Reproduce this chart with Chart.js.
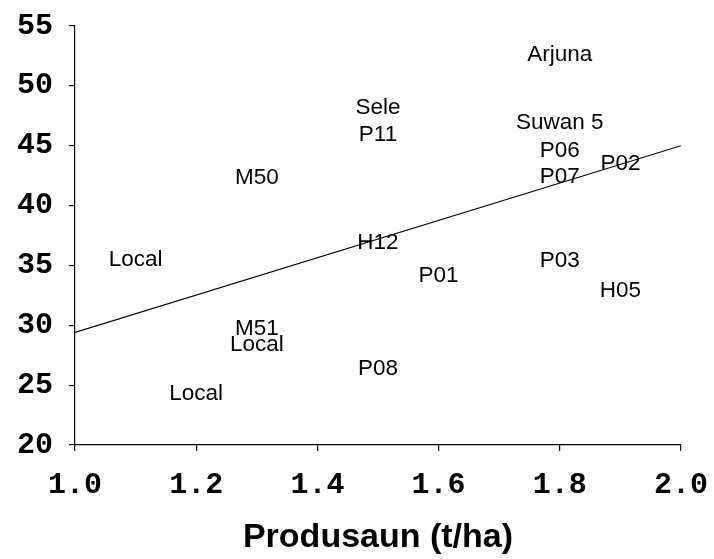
<!DOCTYPE html>
<html>
<head>
<meta charset="utf-8">
<script src="https://cdn.jsdelivr.net/npm/chart.js@4"></script>
<style>
  html, body { margin: 0; padding: 0; background: #fff; }
  #wrap { width: 714px; height: 559px; }
</style>
</head>
<body>
<div id="wrap"><canvas id="myChart"></canvas></div>
<script>
  // varieties, plotted as text at (produsaun, y)
  const names = ['Arjuna', 'Sele', 'P11', 'Suwan 5', 'P06', 'P07', 'P02', 'M50', 'H12',
                 'Local', 'P01', 'P03', 'H05', 'M51', 'Local', 'P08', 'Local'];
  const produsaun = [1.8, 1.5, 1.5, 1.8, 1.8, 1.8, 1.9, 1.3, 1.5,
                     1.1, 1.6, 1.8, 1.9, 1.3, 1.3, 1.5, 1.2];
  const yVals = [52.6, 48.2, 45.9, 46.9, 44.6, 42.4, 43.5, 42.3, 36.9,
                 35.5, 34.1, 35.4, 32.9, 29.7, 28.4, 26.4, 24.3];

  // trend line
  const trendX = [1.0, 2.0];
  const trendY = [29.4, 45.0];

  const xTicks = [1.0, 1.2, 1.4, 1.6, 1.8, 2.0];
  const yTicks = [20, 25, 30, 35, 40, 45, 50, 55];

  const pts = produsaun.map((x, i) => ({ x: x, y: yVals[i] }));
  const trend = trendX.map((x, i) => ({ x: x, y: trendY[i] }));

  const textLabels = {
    id: 'textLabels',
    afterDatasetsDraw(chart) {
      const c = chart.ctx;
      const meta = chart.getDatasetMeta(0);
      c.save();
      c.font = '22.5px "Liberation Sans", Arial, sans-serif';
      c.fillStyle = '#000';
      c.textAlign = 'center';
      c.textBaseline = 'middle';
      meta.data.forEach((p, i) => {
        c.fillText(names[i], p.x, p.y);
      });
      c.restore();
    }
  };

  const ctx = document.getElementById('myChart');

  new Chart(ctx, {
    type: 'scatter',
    data: {
      datasets: [
        {
          label: 'varieties',
          data: pts,
          pointRadius: 0,
          pointHoverRadius: 0
        },
        {
          label: 'trend',
          type: 'line',
          data: trend,
          borderColor: '#000',
          borderWidth: 1.2,
          pointRadius: 0,
          fill: false
        }
      ]
    },
    options: {
      responsive: true,
      maintainAspectRatio: false,
      animation: false,
      layout: {
        padding: { top: 26, right: 33, left: 0, bottom: 0 }
      },
      plugins: {
        legend: { display: false },
        tooltip: { enabled: false }
      },
      scales: {
        x: {
          type: 'linear',
          min: 1.0,
          max: 2.0,
          afterBuildTicks: (s) => { s.ticks = xTicks.map(v => ({ value: v })); },
          afterFit: (s) => { s.height = 114; s.paddingLeft = 0; s.paddingRight = 0; },
          border: { display: true, color: '#000', width: 1.2 },
          grid: { drawOnChartArea: false, drawTicks: true, tickLength: 6, color: '#000', lineWidth: 1.2 },
          ticks: {
            color: '#000',
            padding: 16,
            maxRotation: 0,
            font: { family: '"Liberation Mono", "Courier New", monospace', size: 30, weight: 'bold' },
            callback: (v) => Number(v).toFixed(1)
          },
          title: {
            display: true,
            text: 'Produsaun (t/ha)',
            color: '#000',
            padding: { top: 0, bottom: 1 },
            font: { family: '"Liberation Sans", Arial, sans-serif', size: 34, weight: 'bold' }
          }
        },
        y: {
          type: 'linear',
          min: 20,
          max: 55,
          afterBuildTicks: (s) => { s.ticks = yTicks.map(v => ({ value: v })); },
          afterFit: (s) => { s.width = 75; s.paddingTop = 0; s.paddingBottom = 0; },
          border: { display: true, color: '#000', width: 1.2 },
          grid: { drawOnChartArea: false, drawTicks: true, tickLength: 6, color: '#000', lineWidth: 1.2 },
          ticks: {
            color: '#000',
            padding: 16,
            font: { family: '"Liberation Mono", "Courier New", monospace', size: 30, weight: 'bold' }
          }
        }
      }
    },
    plugins: [textLabels]
  });
</script>
</body>
</html>
